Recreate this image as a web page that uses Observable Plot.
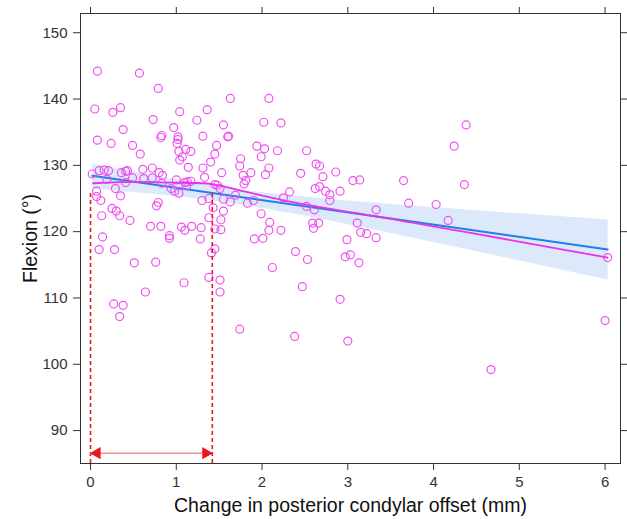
<!DOCTYPE html>
<html><head><meta charset="utf-8">
<script src="https://cdn.jsdelivr.net/npm/d3@7"></script>
<script src="https://cdn.jsdelivr.net/npm/@observablehq/plot@0.6"></script>
<style>
body{margin:0;background:#fff}
#chart{width:627px;height:519px}
</style>
</head><body><div id="chart"></div>
<script>
// Change in posterior condylar offset (mm)
const offsetX = [0.08,0.57,0.79,1.63,2.08,0.05,0.26,0.35,1.04,1.36,
0.73,1.24,1.55,2.02,2.22,4.38,0.38,0.97,0.83,0.82,
1.02,1.02,1.01,1.31,1.61,1.60,0.08,0.24,0.49,0.58,
1.47,1.45,1.40,1.94,2.03,2.18,1.99,1.75,1.74,2.08,
2.04,2.52,4.24,1.11,1.17,1.03,1.07,1.04,1.14,1.31,
1.33,1.53,2.63,2.67,2.71,2.86,2.45,1.78,1.87,1.81,
1.79,3.06,3.14,0.02,0.10,0.16,0.21,0.36,0.41,0.43,
0.61,0.72,0.80,0.84,0.62,0.72,0.19,0.41,0.49,0.83,
1.00,1.10,1.13,1.12,1.17,0.94,0.98,1.03,0.29,0.35,
0.07,0.07,0.12,1.45,1.48,1.51,1.55,1.63,1.69,1.90,
1.83,2.32,2.25,2.62,2.67,2.74,2.79,2.79,2.91,4.36,
3.65,1.30,1.38,2.52,2.61,1.99,2.09,2.08,2.22,2.59,
2.66,2.60,2.99,3.11,1.43,1.55,1.52,1.38,1.45,1.52,
0.79,0.77,0.25,0.30,0.34,0.13,0.46,0.70,0.82,1.06,
1.10,1.18,1.29,0.14,0.92,0.92,1.28,1.91,2.01,0.10,
0.28,2.39,1.45,1.41,0.51,0.76,2.53,2.12,2.97,3.03,
3.13,3.15,3.22,3.33,3.33,3.71,4.03,4.17,6.03,0.64,
1.09,0.27,0.38,0.34,1.38,1.51,1.51,1.74,2.47,2.38,
2.91,3.00,4.67,6.00];
// Flexion (°)
const flexion = [144.2,143.9,141.6,140.1,140.1,138.5,138.0,138.7,138.1,138.4,
136.9,136.8,136.1,136.5,136.4,136.1,135.4,135.7,134.5,134.2,
134.3,133.9,133.3,134.4,134.4,134.3,133.8,133.3,133.0,131.7,
133.0,131.7,130.5,132.9,132.5,132.2,131.3,131.0,129.9,129.6,
128.6,132.2,132.9,132.4,132.1,132.1,131.3,130.8,129.7,129.6,
128.2,128.9,130.2,129.9,128.3,129.0,128.8,128.5,128.9,127.7,
127.2,127.7,127.8,128.7,129.2,129.3,129.2,128.9,129.1,129.2,
129.4,129.6,128.9,128.5,128.0,128.1,127.9,127.4,128.1,127.3,
127.8,127.4,127.5,126.9,127.6,126.5,126.1,125.8,126.5,125.4,
126.1,125.3,124.7,127.1,127.0,126.5,124.9,124.5,125.5,124.7,
124.3,126.0,125.1,126.5,126.8,126.1,125.6,124.7,126.1,127.1,
127.7,124.7,125.0,123.8,123.3,122.7,121.4,120.2,120.2,121.3,
121.3,120.5,118.8,121.3,123.6,123.1,121.8,122.1,120.4,120.3,
124.4,123.9,123.5,123.1,122.4,122.4,121.7,120.8,120.8,120.7,
120.2,120.8,120.6,119.2,119.4,119.0,118.9,118.9,119.0,117.3,
117.3,117.0,117.4,116.8,115.3,115.4,115.8,114.6,116.2,116.5,
115.3,119.9,119.7,119.1,123.3,124.3,124.1,121.7,116.1,110.9,
112.3,109.1,108.9,107.2,113.1,112.7,110.9,105.3,111.7,104.2,
109.8,103.5,99.2,106.6];
// loess smoother
const loessX = [0.03,0.55,0.93,1.32,1.52,1.75,1.98,2.37,2.76,3.15,4.35,5.64,6.03];
const loessY = [127.3,127.5,127.4,127.3,126.9,126.2,125.5,124.4,123.5,122.7,120.0,117.0,116.1];
// annotation: interval marked with red dashed lines and double arrow
const markerX = [0.0, 1.42];
const markerTop = 126.0;
const arrowY = 86.6;
const xTicks = [0,1,2,3,4,5,6];
const yTicks = [90,100,110,120,130,140,150];
const xDomain = [-0.117, 6.18];
const yDomain = [85.04, 152.9];
const xLabel = "Change in posterior condylar offset (mm)";
const yLabel = "Flexion (°)";

const pts = offsetX.map((x, i) => ({x, y: flexion[i]}));
const loess = loessX.map((x, i) => ({x, y: loessY[i]}));
const ink = "#333";
const font = "'Liberation Sans', Arial, Helvetica, sans-serif";

const chart = Plot.plot({
  width: 627, height: 519,
  marginLeft: 80, marginRight: 7, marginTop: 13, marginBottom: 56,
  style: {fontFamily: font, fontSize: "14px", background: "#fff", color: ink},
  x: {domain: xDomain},
  y: {domain: yDomain},
  marks: [
    Plot.linearRegressionY(pts, {x: "x", y: "y", stroke: "#1f7fe6", strokeWidth: 2, fill: "#c4dbf9", fillOpacity: 0.6, ci: 0.95}),
    Plot.dot(pts, {x: "x", y: "y", r: 4, stroke: "#f050f0", strokeWidth: 1.2, fill: "none"}),
    Plot.line(loess, {x: "x", y: "y", stroke: "#e834e8", strokeWidth: 1.8, curve: "monotone-x"}),
    Plot.ruleX(markerX, {x: d => d, y1: yDomain[0], y2: markerTop, stroke: "#e8161c", strokeWidth: 1.6, strokeDasharray: "4,3"}),
    Plot.ruleY([arrowY], {y: d => d, x1: markerX[0], x2: markerX[1], stroke: "#f29090", strokeWidth: 1.5}),
    Plot.dot([markerX[0]], {x: d => d, y: arrowY, symbol: "triangle", r: 4.6, rotate: -90, dx: 6.5, fill: "#f0141c", stroke: "none"}),
    Plot.dot([markerX[1]], {x: d => d, y: arrowY, symbol: "triangle", r: 4.6, rotate: 90, dx: -6.5, fill: "#f0141c", stroke: "none"}),
    Plot.frame({stroke: ink, strokeWidth: 1}),
    Plot.axisX({ticks: xTicks, tickSize: 7, tickPadding: 6, fontSize: 15, tickFormat: d => String(d), label: null, stroke: ink}),
    Plot.axisX({anchor: "top", ticks: xTicks, tickSize: 7, tickFormat: () => "", label: null, stroke: ink}),
    Plot.axisY({ticks: yTicks, tickSize: 7, tickPadding: 6, fontSize: 15, tickFormat: d => String(d), label: null, stroke: ink}),
    Plot.axisY({anchor: "right", ticks: yTicks, tickSize: 7, tickFormat: () => "", label: null, stroke: ink}),
    Plot.text([xLabel], {text: d => d, frameAnchor: "bottom", textAnchor: "middle", lineAnchor: "middle", dy: 42, fontSize: 19.5, fill: "#111"}),
    Plot.text([yLabel], {text: d => d, frameAnchor: "left", textAnchor: "middle", lineAnchor: "middle", dx: -50, rotate: -90, fontSize: 19.5, fill: "#111"})
  ]
});
document.getElementById("chart").appendChild(chart);
</script>
</body></html>
